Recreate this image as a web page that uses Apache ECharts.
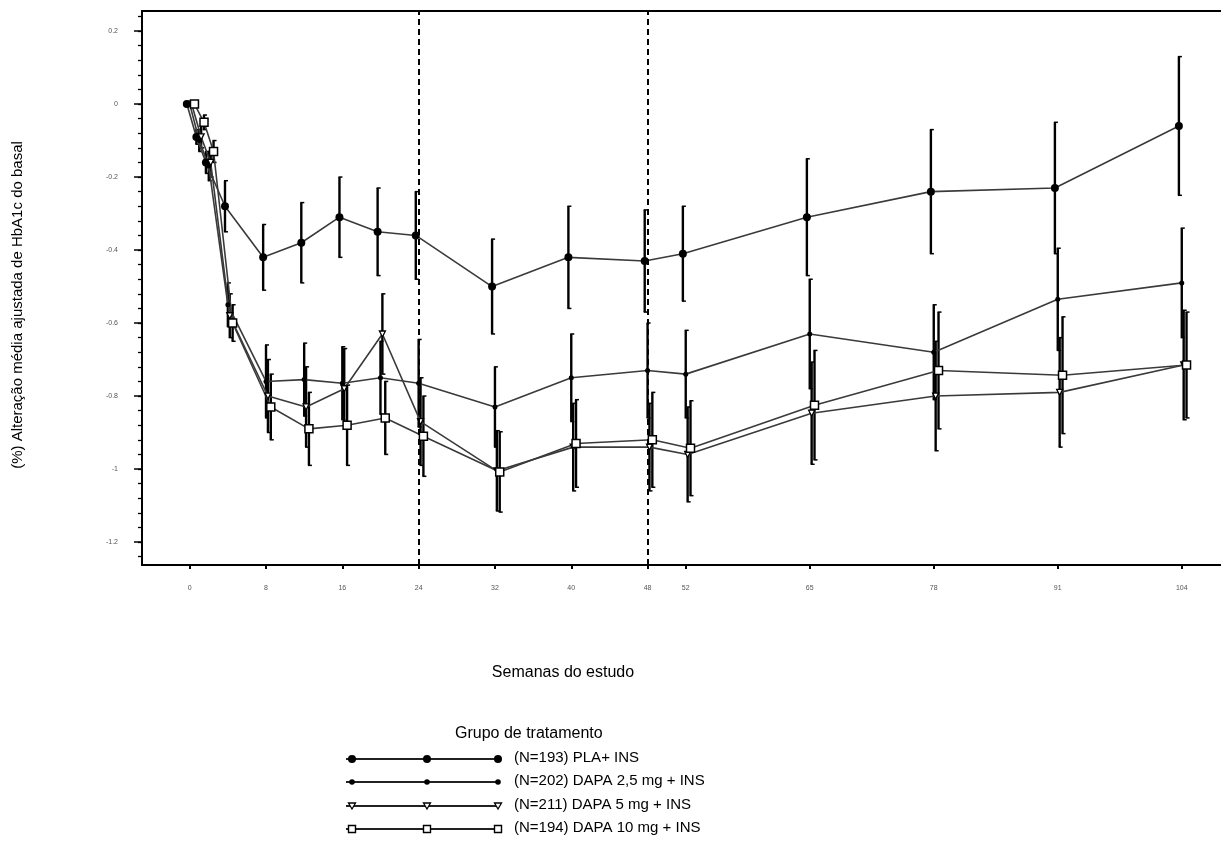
<!DOCTYPE html>
<html><head><meta charset="utf-8">
<script src="https://cdn.jsdelivr.net/npm/echarts@6/dist/echarts.min.js"></script>
<style>html,body{margin:0;padding:0;background:#fff}#c{width:1221px;height:863px}</style>
</head><body><div id="c"></div>
<script>
const weeks = [0,1,2,4,8,12,16,20,24,32,40,48,52,65,78,91,104];
const xTickValues = [0,8,16,24,32,40,48,52,65,78,91,104];
const yTickValues = [-1.2,-1,-0.8,-0.6,-0.4,-0.2,0,0.2];
const refWeeks = [24,48];

const plaMean = [0,-0.09,-0.16,-0.28,-0.42,-0.38,-0.31,-0.35,-0.36,-0.50,-0.42,-0.43,-0.41,-0.31,-0.24,-0.23,-0.06];
const plaErr  = [0,0.02,0.03,0.07,0.09,0.11,0.11,0.12,0.12,0.13,0.14,0.14,0.13,0.16,0.17,0.18,0.19];
const d25Mean = [0,-0.10,-0.17,-0.55,-0.76,-0.755,-0.765,-0.75,-0.765,-0.83,-0.75,-0.73,-0.74,-0.63,-0.68,-0.535,-0.49];
const d25Err  = [0,0.03,0.04,0.06,0.10,0.10,0.10,0.10,0.12,0.11,0.12,0.13,0.12,0.15,0.13,0.14,0.15];
const d5Mean  = [0,-0.09,-0.16,-0.58,-0.80,-0.83,-0.78,-0.63,-0.87,-1.005,-0.94,-0.94,-0.96,-0.847,-0.80,-0.79,-0.715];
const d5Err   = [0,0.03,0.04,0.06,0.10,0.11,0.11,0.11,0.12,0.11,0.12,0.12,0.13,0.14,0.15,0.15,0.15];
const d10Mean = [0,-0.05,-0.13,-0.60,-0.83,-0.89,-0.88,-0.86,-0.91,-1.008,-0.93,-0.92,-0.943,-0.825,-0.73,-0.743,-0.715];
const d10Err  = [0,0.02,0.03,0.05,0.09,0.10,0.11,0.10,0.11,0.11,0.12,0.13,0.13,0.15,0.16,0.16,0.145];

const names = ['(N=193) PLA+ INS','(N=202) DAPA 2,5 mg + INS','(N=211) DAPA 5 mg + INS','(N=194) DAPA 10 mg + INS'];
const means = [plaMean,d25Mean,d5Mean,d10Mean];
const errs = [plaErr,d25Err,d5Err,d10Err];

const dodge = [-0.3,0,0.2,0.5];
const symbols = [
  {symbol:'circle',symbolSize:8,itemStyle:{color:'#000',borderColor:'#000',borderWidth:0}},
  {symbol:'circle',symbolSize:5,itemStyle:{color:'#000',borderColor:'#000',borderWidth:0}},
  {symbol:'triangle',symbolSize:6,symbolRotate:180,itemStyle:{color:'#fff',borderColor:'#000',borderWidth:1.3}},
  {symbol:'rect',symbolSize:8,itemStyle:{color:'#fff',borderColor:'#000',borderWidth:1.5}}
];

const series = [];
means.forEach((m,i)=>{
  const dat = weeks.map((w,k)=>[w+dodge[i], m[k]]);
  const errDat = weeks.map((w,k)=>[w+dodge[i], m[k]-errs[i][k], m[k]+errs[i][k]]).filter((d,k)=>errs[i][k]>0);
  series.push({
    type:'custom', name:names[i]+'_err', xAxisIndex:0, yAxisIndex:0, z:3,
    data:errDat, silent:true,
    renderItem:function(params,api){
      const x=api.value(0), lo=api.value(1), hi=api.value(2);
      const p1=api.coord([x,hi]), p2=api.coord([x,lo]);
      const st={stroke:'#000',lineWidth:2.4};
      return {type:'group',children:[
        {type:'line',shape:{x1:p1[0],y1:p1[1],x2:p2[0],y2:p2[1]},style:st},
        {type:'line',shape:{x1:p1[0]-1,y1:p1[1],x2:p1[0]+3,y2:p1[1]},style:{stroke:'#000',lineWidth:1.5}},
        {type:'line',shape:{x1:p2[0]-1,y1:p2[1],x2:p2[0]+3,y2:p2[1]},style:{stroke:'#000',lineWidth:1.5}}
      ]};
    }
  });
  const s = Object.assign({
    type:'line', name:names[i], data:dat, z:4, animation:false,
    lineStyle:{color:'#3a3a3a',width:1.6},
    showAllSymbol:true
  }, symbols[i]);
  if(i===0){
    s.markLine = {silent:true,symbol:['none','none'],label:{show:false},
      lineStyle:{color:'#000',type:[6,4],width:2},
      data: refWeeks.map(w=>({xAxis:w}))};
  }
  series.push(s);
});

const minorTicks=[];
for(let k=-31;k<=6;k++){ minorTicks.push(Math.round(k*0.04*1000)/1000); }

const legendGraphics=[];
const rowY=[759,782,806,829];
legendGraphics.push({type:'text',left:455,top:726,style:{text:'Grupo de tratamento',font:'16px "Liberation Sans", Arial, sans-serif',fill:'#000'}});
rowY.forEach((y,i)=>{
  legendGraphics.push({type:'line',shape:{x1:346,y1:y,x2:499,y2:y},style:{stroke:'#222',lineWidth:1.8}});
  [352,427,498].forEach(x=>{
    if(i===0) legendGraphics.push({type:'circle',shape:{cx:x,cy:y,r:4},style:{fill:'#000'}});
    else if(i===1) legendGraphics.push({type:'circle',shape:{cx:x,cy:y,r:2.8},style:{fill:'#000'}});
    else if(i===2) legendGraphics.push({type:'polygon',shape:{points:[[x-3.5,y-3],[x+3.5,y-3],[x,y+3]]},style:{fill:'#fff',stroke:'#000',lineWidth:1.3}});
    else legendGraphics.push({type:'rect',shape:{x:x-3.5,y:y-3.5,width:7,height:7},style:{fill:'#fff',stroke:'#000',lineWidth:1.4}});
  });
  legendGraphics.push({type:'text',left:514,top:y-9,style:{text:names[i],font:'15px "Liberation Sans", Arial, sans-serif',fill:'#000'}});
});

const chart = echarts.init(document.getElementById('c'));
chart.setOption({
  animation:false,
  backgroundColor:'#fff',
  grid:{left:142,top:11,width:1097,height:554,show:true,borderColor:'#000',borderWidth:2,backgroundColor:'transparent',outerBoundsMode:'none',containLabel:false},
  xAxis:[{type:'value',min:-5,max:110,
    axisLine:{show:true,onZero:false,lineStyle:{color:'#000',width:2}},
    axisTick:{show:true,customValues:xTickValues,length:4,lineStyle:{color:'#000',width:2}},
    axisLabel:{customValues:xTickValues,fontSize:7,color:'#555',margin:20,fontFamily:'Liberation Sans'},
    splitLine:{show:false}}],
  yAxis:[{type:'value',min:-1.263,max:0.255,
    axisLine:{show:true,onZero:false,lineStyle:{color:'#000',width:2}},
    axisTick:{show:true,customValues:yTickValues,length:8,lineStyle:{color:'#000',width:1.5}},
    axisLabel:{customValues:yTickValues,fontSize:7,color:'#555',margin:24,fontFamily:'Liberation Sans',
      formatter:v=>String(Math.round(v*10)/10)},
    splitLine:{show:false}},
    {type:'value',min:-1.263,max:0.255,position:'left',
    axisLine:{show:false,onZero:false},
    axisTick:{show:true,customValues:minorTicks,length:4,lineStyle:{color:'#000',width:1.3}},
    axisLabel:{show:false},splitLine:{show:false}}],
  series:series,
  graphic:[
    {type:'text',x:18,y:305,rotation:Math.PI/2,style:{text:'(%) Alteração média ajustada de HbA1c do basal',font:'15px "Liberation Sans", Arial, sans-serif',fill:'#000',align:'center',verticalAlign:'middle'}},
    {type:'text',x:563,y:673,style:{text:'Semanas do estudo',font:'16px "Liberation Sans", Arial, sans-serif',fill:'#000',align:'center',verticalAlign:'middle'}}
  ].concat(legendGraphics)
});
</script></body></html>
